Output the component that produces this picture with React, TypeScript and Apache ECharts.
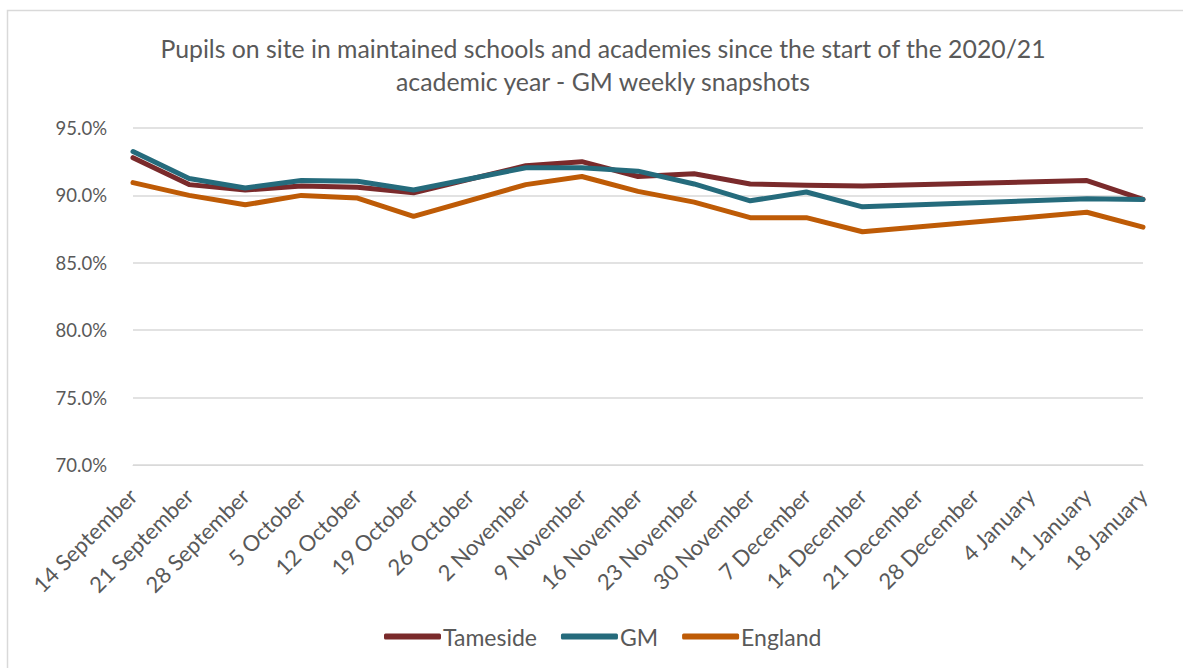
import React, { useEffect, useRef } from "react";
import * as echarts from "echarts";

const categories = [
  "14 September", "21 September", "28 September", "5 October", "12 October",
  "19 October", "26 October", "2 November", "9 November", "16 November",
  "23 November", "30 November", "7 December", "14 December", "21 December",
  "28 December", "4 January", "11 January", "18 January",
];

// null = no snapshot that week (line drawn straight across, as in the source)
const tameside = [92.8, 90.8, 90.4, 90.7, 90.6, 90.2, null, 92.2, 92.5, 91.4, 91.6, 90.85, 90.75, 90.7, null, null, null, 91.1, 89.7];
const gm = [93.25, 91.25, 90.55, 91.1, 91.05, 90.4, null, 92.05, 92.05, 91.8, 90.85, 89.6, 90.25, 89.15, null, null, null, 89.75, 89.7];
const england = [90.95, 90.0, 89.3, 90.0, 89.8, 88.45, null, 90.8, 91.4, 90.3, 89.5, 88.35, 88.35, 87.3, null, null, null, 88.75, 87.65];

const yTicks = { min: 70, max: 95, interval: 5 };

const FONT = "Lato";
const TXT = "#595959";

export default function App() {
  const ref = useRef<HTMLDivElement>(null);
  useEffect(() => {
    document.body.style.margin = "0";
    const chart = echarts.init(ref.current!, null, { renderer: "svg" });
    const mk = (name: string, data: (number | null)[], color: string) => ({
      name,
      type: "line",
      data,
      connectNulls: true,
      showSymbol: false,
      symbol: "none",
      lineStyle: { color, width: 5, cap: "round", join: "round" },
      itemStyle: { color },
    });
    chart.setOption({
      animation: false,
      backgroundColor: "#ffffff",
      textStyle: { fontFamily: FONT },
      graphic: [
        {
          type: "rect",
          shape: { x: 7.5, y: 10.5, width: 1300, height: 800 },
          style: { fill: "none", stroke: "#D9D9D9", lineWidth: 1.5 },
          silent: true,
        },
      ],
      title: {
        text: "Pupils on site in maintained schools and academies since the start of the 2020/21\nacademic year - GM weekly snapshots",
        left: 598,
        top: 27,
        textAlign: "center",
        textStyle: { fontFamily: FONT, fontSize: 24.8, fontWeight: "normal", color: TXT, lineHeight: 33 },
      },
      legend: {
        bottom: 15,
        left: 379,
        itemWidth: 57,
        itemHeight: 6,
        itemGap: 24,
        icon: "roundRect",
        textStyle: { fontFamily: FONT, fontSize: 23, color: TXT, padding: [0, 0, 0, -3] },
        data: ["Tameside", "GM", "England"],
      },
      grid: { left: 133, right: 40, top: 128, bottom: 203, containLabel: false },
      xAxis: {
        type: "category",
        data: categories,
        boundaryGap: false,
        axisLine: { lineStyle: { color: "#D9D9D9", width: 1 } },
        axisTick: { show: false },
        axisLabel: { rotate: 45, interval: 0, color: TXT, fontSize: 22, fontFamily: FONT, margin: 27 },
      },
      yAxis: {
        type: "value",
        min: yTicks.min,
        max: yTicks.max,
        interval: yTicks.interval,
        axisLine: { show: false },
        axisTick: { show: false },
        splitLine: { lineStyle: { color: "#D9D9D9", width: 1.5 } },
        axisLabel: {
          color: TXT,
          fontSize: 18.5,
          fontFamily: FONT,
          margin: 26,
          formatter: (v: number) => v.toFixed(1) + "%",
        },
      },
      series: [
        mk("Tameside", tameside, "#7A2A2B"),
        mk("GM", gm, "#256B7C"),
        mk("England", england, "#BE5B06"),
      ],
    });
    return () => chart.dispose();
  }, []);
  return <div ref={ref} style={{ width: 1183, height: 668 }} />;
}
